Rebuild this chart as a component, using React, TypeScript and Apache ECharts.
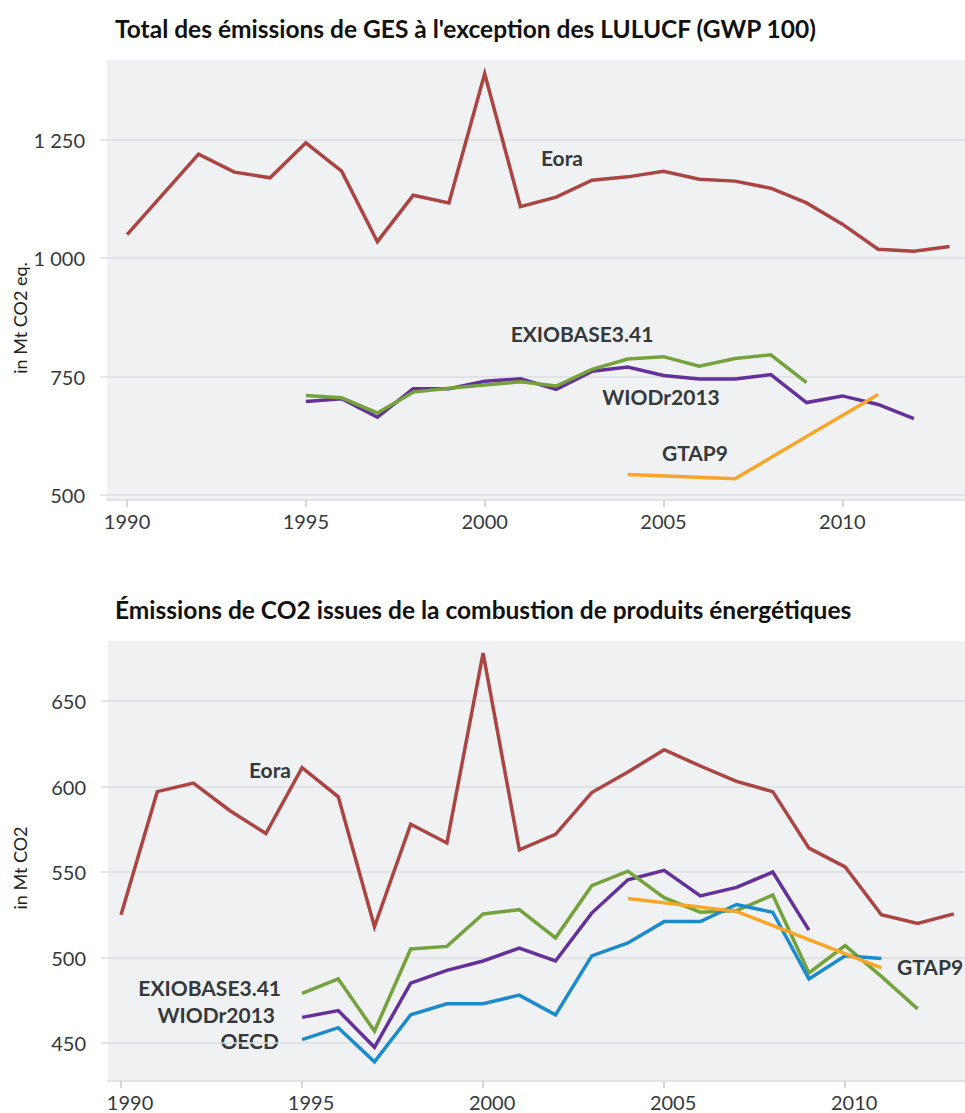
import React, { useEffect, useRef } from "react";
import * as echarts from "echarts";

// ---- Data ----
const xTickYears = [1990, 1995, 2000, 2005, 2010];

// Top chart: GHG excl. LULUCF (Mt CO2 eq.)
const topTicks = [500, 750, 1000, 1250];
const topEoraStart = 1990;
const topEora = [1050, 1135, 1220, 1182, 1170, 1244, 1184, 1035, 1133, 1117, 1390, 1109, 1129, 1165, 1172, 1184, 1167, 1163, 1148, 1117, 1072, 1019, 1015, 1025];
const topExioStart = 1995;
const topExio = [710, 705, 673, 717, 725, 732, 739, 730, 765, 787, 792, 772, 788, 796, 737];
const topWiodStart = 1995;
const topWiod = [697, 703, 664, 724, 724, 740, 745, 723, 761, 770, 752, 745, 745, 754, 695, 709, 691, 661];
const gtapYears = [2004, 2007, 2011];
const topGtap = [543, 534, 712];

// Bottom chart: CO2 from fuel combustion (Mt CO2)
const bottomTicks = [450, 500, 550, 600, 650];
const botEoraStart = 1990;
const botEora = [525, 597, 602, 586, 572.5, 611, 594, 518, 578, 567, 678, 563, 572, 596.5, 608.5, 621.5, 612, 603, 597, 564, 553, 525, 520, 525.5];
const botExioStart = 1995;
const botExio = [479, 487.5, 457, 505, 506.5, 525.5, 528, 511.5, 542, 550.5, 535, 526.5, 527.5, 536.5, 491, 507, 489, 470];
const botWiodStart = 1995;
const botWiod = [465, 469, 447.5, 485, 492.5, 498, 505.5, 498, 526, 545.5, 551, 536, 541, 550, 516];
const botOecdStart = 1995;
const botOecd = [452, 459, 439, 466.5, 473, 473, 478, 466.5, 501, 508.5, 521, 521, 531, 526.5, 487.5, 501, 499.5];
const botGtap = [534.5, 527, 494];

const titles = [
  "Total des émissions de GES à l'exception des LULUCF (GWP 100)",
  "Émissions de CO2 issues de la combustion de produits énergétiques",
];
const yNames = ["in Mt CO2 eq.", "in Mt CO2"];

// ---- Styles ----
const C = {
  eora: "#aa4541",
  exio: "#74a23c",
  wiod: "#64309a",
  oecd: "#1c8bcb",
  gtap: "#f9a628",
  text: "#33393c",
  grid: "#dcdde0",
  bg: "#f0f1f3",
};
const FONT = "Lato, 'Open Sans', sans-serif";

const fromStart = (start: number, vals: number[]) => vals.map((v, i) => [start + i, v]);
const fromYears = (years: number[], vals: number[]) => vals.map((v, i) => [years[i], v]);

function line(name: string, data: number[][], color: string, idx: number) {
  return {
    name,
    type: "line",
    xAxisIndex: idx,
    yAxisIndex: idx,
    data,
    showSymbol: false,
    symbol: "none",
    lineStyle: { color, width: 3.5, join: "miter" },
    itemStyle: { color },
    silent: true,
  };
}

function label(text: string, x: number, y: number, align: string = "center") {
  return {
    type: "text",
    x,
    y,
    silent: true,
    style: {
      text,
      fill: C.text,
      font: `bold 21px ${FONT}`,
      align,
      verticalAlign: "middle",
    },
  };
}

function xAxis(idx: number, min: number, max: number, labelPad: number) {
  return {
    type: "value",
    gridIndex: idx,
    min,
    max,
    axisLine: { show: true, lineStyle: { color: C.grid, width: 1.5 } },
    axisTick: { show: true, customValues: xTickYears, length: 7, lineStyle: { color: "#c8c9cc", width: 1.5 } },
    axisLabel: {
      customValues: xTickYears,
      color: C.text,
      fontFamily: FONT,
      fontSize: 20,
      margin: 11,
      padding: [0, 0, 0, labelPad],
      formatter: (v: number) => String(v),
    },
    splitLine: { show: false },
  };
}

function yAxis(idx: number, min: number, max: number, ticks: number[]) {
  return {
    type: "value",
    gridIndex: idx,
    min,
    max,
    axisLine: { show: false },
    axisTick: { show: true, customValues: ticks, length: 7, lineStyle: { color: C.grid, width: 1.5 } },
    axisLabel: {
      customValues: ticks,
      color: C.text,
      fontFamily: FONT,
      fontSize: 20,
      margin: 22,
      formatter: (v: number) => String(v).replace(/\B(?=(\d{3})+(?!\d))/g, " "),
    },
    splitLine: { show: true, lineStyle: { color: C.grid, width: 1.5 } },
  };
}

export default function App() {
  const ref = useRef<HTMLDivElement>(null);
  useEffect(() => {
    if (!ref.current) return;
    const chart = echarts.init(ref.current, null, { renderer: "svg" });
    chart.setOption({
      animation: false,
      backgroundColor: "#ffffff",
      title: [
        {
          text: titles[0],
          left: 110,
          top: 11,
          textStyle: { fontFamily: FONT, fontSize: 24.5, fontWeight: "bold", color: "#111" },
        },
        {
          text: titles[1],
          left: 110,
          top: 592,
          textStyle: { fontFamily: FONT, fontSize: 24.5, fontWeight: "bold", color: "#111" },
        },
      ],
      grid: [
        { left: 107, top: 60, right: 0, height: 440, show: true, backgroundColor: C.bg, borderWidth: 0 },
        { left: 108, top: 641, right: 0, height: 440, show: true, backgroundColor: C.bg, borderWidth: 0 },
      ],
      xAxis: [xAxis(0, 1989.44, 2013.43, 0), xAxis(1, 1989.64, 2013.31, 18)],
      yAxis: [yAxis(0, 489, 1419, topTicks), yAxis(1, 427.8, 685.1, bottomTicks)],
      series: [
        line("Eora", fromStart(topEoraStart, topEora), C.eora, 0),
        line("WIODr2013", fromStart(topWiodStart, topWiod), C.wiod, 0),
        line("EXIOBASE3.41", fromStart(topExioStart, topExio), C.exio, 0),
        line("GTAP9", fromYears(gtapYears, topGtap), C.gtap, 0),
        line("Eora", fromStart(botEoraStart, botEora), C.eora, 1),
        line("WIODr2013", fromStart(botWiodStart, botWiod), C.wiod, 1),
        line("EXIOBASE3.41", fromStart(botExioStart, botExio), C.exio, 1),
        line("OECD", fromStart(botOecdStart, botOecd), C.oecd, 1),
        line("GTAP9", fromYears(gtapYears, botGtap), C.gtap, 1),
      ],
      graphic: [
        label("Eora", 562, 157),
        label("EXIOBASE3.41", 582, 333),
        label("WIODr2013", 661, 396),
        label("GTAP9", 695, 452),
        label("Eora", 270, 769),
        label("EXIOBASE3.41", 281, 987, "right"),
        label("WIODr2013", 275, 1014, "right"),
        label("OECD", 279, 1040, "right"),
        label("GTAP9", 897, 966, "left"),
        {
          type: "text",
          x: 20,
          y: 318,
          rotation: Math.PI / 2,
          silent: true,
          style: { text: yNames[0], fill: "#222", font: `18px ${FONT}`, align: "center", verticalAlign: "middle" },
        },
        {
          type: "text",
          x: 20,
          y: 868,
          rotation: Math.PI / 2,
          silent: true,
          style: { text: yNames[1], fill: "#222", font: `18px ${FONT}`, align: "center", verticalAlign: "middle" },
        },
      ],
    });
    return () => chart.dispose();
  }, []);
  return (
    <div
      ref={ref}
      style={{ position: "absolute", left: 0, top: 0, width: 965, height: 1113 }}
    />
  );
}
